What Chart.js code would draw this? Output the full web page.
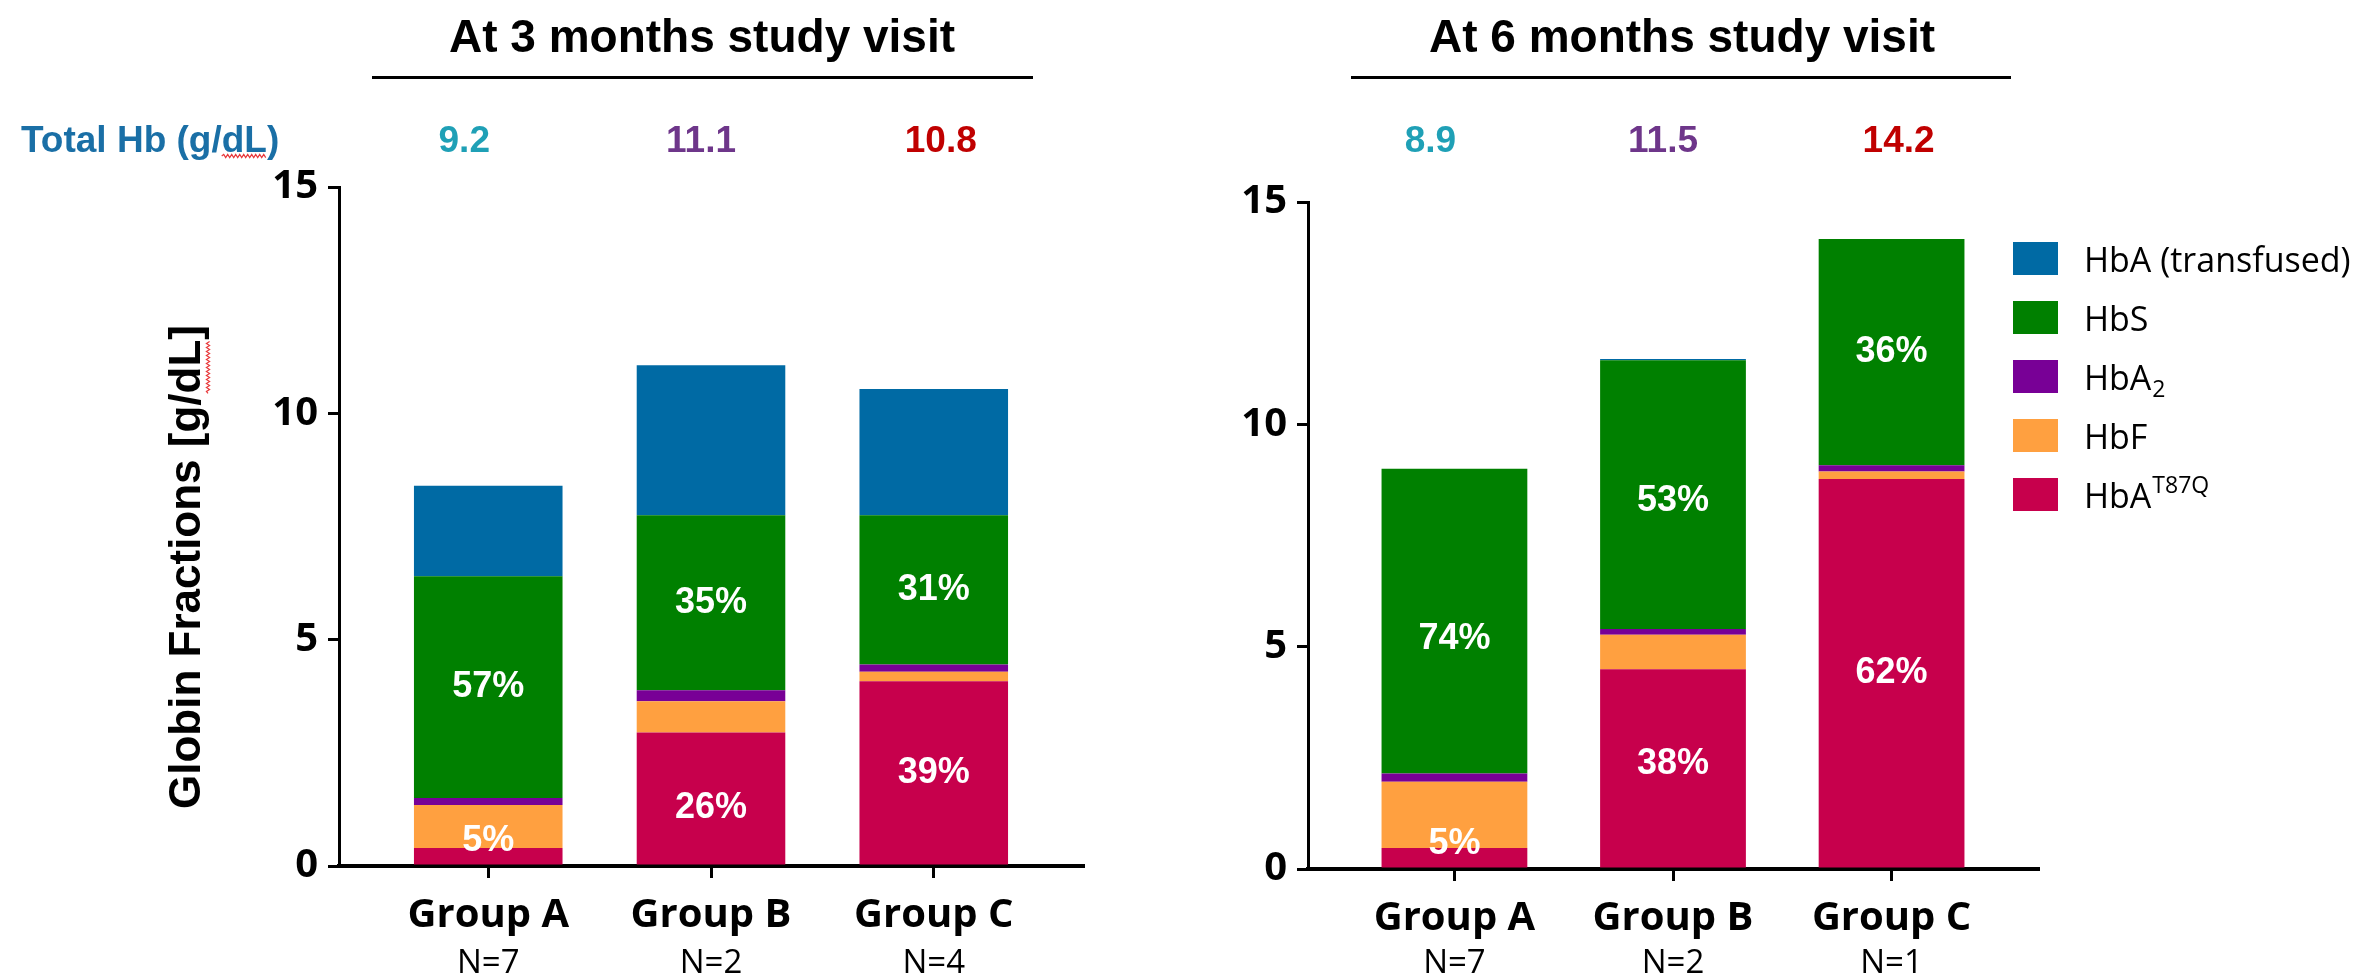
<!DOCTYPE html>
<html>
<head>
<meta charset="utf-8">
<script src="https://cdn.jsdelivr.net/npm/chart.js@4.4.1/dist/chart.umd.min.js"></script>
<style>
  html, body { margin: 0; padding: 0; background: #ffffff; }
  #wrap { position: relative; width: 2356px; height: 977px; overflow: hidden; background: #ffffff; }
  canvas { position: absolute; top: 0; }
  #visit3 { left: 0; }
  #visit6 { left: 1180px; }
</style>
</head>
<body>
<div id="wrap">
  <canvas id="visit3" width="1180" height="977"></canvas>
  <canvas id="visit6" width="1176" height="977"></canvas>
</div>
<script>
// ---- data (g/dL) ----
const groups = ['Group A', 'Group B', 'Group C'];
const nPatients3 = ['N=7', 'N=2', 'N=4'];
const nPatients6 = ['N=7', 'N=2', 'N=1'];
const totalHb3 = ['9.2', '11.1', '10.8'];
const totalHb6 = ['8.9', '11.5', '14.2'];
const yTicks = [0, 5, 10, 15];

// 3 months study visit, stacked bottom to top
const hbT87Q3 = [0.40, 2.95, 4.08];
const hbF3    = [0.95, 0.69, 0.21];
const hbA2_3  = [0.15, 0.24, 0.16];
const hbS3    = [4.90, 3.87, 3.30];
const hbA3    = [2.00, 3.31, 2.79];

// 6 months study visit
const hbT87Q6 = [0.47, 4.49, 8.77];
const hbF6    = [1.49, 0.78, 0.17];
const hbA2_6  = [0.19, 0.13, 0.14];
const hbS6    = [6.85, 6.04, 5.09];
const hbA6    = [0.00, 0.03, 0.00];

// share labels printed inside the bars
const pctT87Q3 = ['5%', '26%', '39%'];
const pctS3    = ['57%', '35%', '31%'];
const pctT87Q6 = ['5%', '38%', '62%'];
const pctS6    = ['74%', '53%', '36%'];

// ---- series styling (stack order, bottom first) ----
const series = [
  { base: 'HbA', sub: '',  sup: 'T87Q', color: '#c7004c' },
  { base: 'HbF', sub: '',  sup: '',     color: '#ffa040' },
  { base: 'HbA', sub: '2', sup: '',     color: '#780096' },
  { base: 'HbS', sub: '',  sup: '',     color: '#008000' },
  { base: 'HbA (transfused)', sub: '', sup: '', color: '#006aa4' }
];
const groupColors = ['#1fa0b6', '#6e368a', '#c00000'];
const totalShift = [-24, -10, 7];

const SANS_BOLD = 'bold 46px "Liberation Sans", Arial, sans-serif';

function buildDatasets(values) {
  return series.map((s, k) => ({
    label: s.base + s.sub + s.sup,
    data: values[k].map((v, i) => ({ x: i, y: v })),
    backgroundColor: s.color,
    borderWidth: 0,
    barPercentage: 0.667,
    categoryPercentage: 1.0
  }));
}

function squiggle(ctx, x0, x1, y) {
  ctx.save();
  ctx.strokeStyle = '#e8393b';
  ctx.lineWidth = 1.2;
  ctx.beginPath();
  let up = true;
  ctx.moveTo(x0, y);
  for (let x = x0 + 2; x <= x1; x += 2) {
    ctx.lineTo(x, up ? y - 1.6 : y + 1.6);
    up = !up;
  }
  ctx.stroke();
  ctx.restore();
}

function decorPlugin(cfg) {
  return {
    id: 'panelDecor',
    afterDraw(chart) {
      const ctx = chart.ctx;
      const xs = chart.scales.x;
      const ys = chart.scales.y;
      ctx.save();

      // panel title with rule underneath
      ctx.fillStyle = '#000';
      ctx.font = SANS_BOLD;
      ctx.textAlign = 'center';
      ctx.textBaseline = 'alphabetic';
      ctx.fillText(cfg.title, cfg.titleX, 52);
      ctx.strokeStyle = '#000';
      ctx.lineWidth = 3;
      ctx.beginPath();
      ctx.moveTo(cfg.ruleX0, 77.5);
      ctx.lineTo(cfg.ruleX1, 77.5);
      ctx.stroke();

      // total haemoglobin row
      ctx.font = 'bold 37px "Liberation Sans", Arial, sans-serif';
      cfg.totals.forEach((t, i) => {
        ctx.fillStyle = groupColors[i];
        ctx.fillText(t, xs.getPixelForValue(i) + totalShift[i], 152);
      });
      if (cfg.hbLabel) {
        ctx.fillStyle = '#1a6fa6';
        ctx.textAlign = 'left';
        ctx.fillText('Total Hb (g/dL)', 21, 152);
        const pre = ctx.measureText('Total Hb (g/').width;
        const dl = ctx.measureText('dL').width;
        squiggle(ctx, 21 + pre, 21 + pre + dl, 156);
      }

      // patient counts under the group names
      ctx.fillStyle = '#000';
      ctx.textAlign = 'center';
      ctx.font = '33px "Open Sans", sans-serif';
      cfg.counts.forEach((n, i) => ctx.fillText(n, xs.getPixelForValue(i), 973));

      // share labels inside the segments
      ctx.fillStyle = '#ffffff';
      ctx.font = 'bold 36px "Liberation Sans", Arial, sans-serif';
      ctx.textBaseline = 'middle';
      const zero = ys.getPixelForValue(0);
      cfg.pct.forEach(({ ds, labels, nudge }) => {
        const meta = chart.getDatasetMeta(ds);
        labels.forEach((lab, i) => {
          const el = meta.data[i];
          let y = (el.y + el.base) / 2;
          y = Math.min(y, zero - 25) + nudge[i];
          ctx.fillText(lab, el.x, y);
        });
      });

      // y-axis title
      if (cfg.yTitle) {
        ctx.save();
        ctx.translate(188, 567);
        ctx.rotate(-Math.PI / 2);
        ctx.fillStyle = '#000';
        ctx.font = 'bold 44px "Liberation Sans", Arial, sans-serif';
        ctx.textAlign = 'center';
        ctx.textBaseline = 'middle';
        const txt = 'Globin Fractions [g/dL]';
        ctx.fillText(txt, 0, 0);
        const w = ctx.measureText(txt).width;
        const pre = ctx.measureText('Globin Fractions [g/').width;
        const dl = ctx.measureText('dL').width;
        squiggle(ctx, -w / 2 + pre, -w / 2 + pre + dl, 20);
        ctx.restore();
      }

      // legend (top entry = top of the stack)
      if (cfg.legend) {
        const lx = cfg.legendX;
        const order = series.slice().reverse();
        order.forEach((s, r) => {
          const cy = 258.5 + r * 59;
          ctx.fillStyle = s.color;
          ctx.fillRect(lx, cy - 16.5, 45, 33);
          ctx.fillStyle = '#000';
          ctx.textAlign = 'left';
          ctx.textBaseline = 'alphabetic';
          ctx.font = '34px "Open Sans", sans-serif';
          const bx = lx + 71;
          const by = cy + 13;
          ctx.fillText(s.base, bx, by);
          let ex = bx + ctx.measureText(s.base).width;
          if (s.sub) {
            ctx.font = '23px "Open Sans", sans-serif';
            ctx.fillText(s.sub, ex + 1, by + 7);
          }
          if (s.sup) {
            ctx.font = '23px "Open Sans", sans-serif';
            ctx.fillText(s.sup, ex + 1, by - 15);
          }
        });
      }
      ctx.restore();
    }
  };
}

function buildChart(canvasId, values, opts) {
  return new Chart(document.getElementById(canvasId), {
    type: 'bar',
    data: { datasets: buildDatasets(values) },
    options: {
      responsive: false,
      devicePixelRatio: 1,
      animation: false,
      events: [],
      layout: { autoPadding: false, padding: opts.padding },
      plugins: { legend: { display: false }, tooltip: { enabled: false } },
      scales: {
        x: {
          type: 'linear',
          stacked: true,
          offset: false,
          min: -0.67,
          max: 2.67,
          afterBuildTicks: (axis) => { axis.ticks = groups.map((_, i) => ({ value: i })); },
          afterFit: (axis) => { axis.height = opts.xHeight; },
          ticks: {
            autoSkip: false,
            maxRotation: 0,
            padding: 14,
            color: '#000',
            font: { family: '"Open Sans", sans-serif', size: 40, weight: 'bold' },
            callback: (v) => groups[v]
          },
          grid: { offset: false, drawOnChartArea: false, drawTicks: true, tickLength: 12, lineWidth: 3, color: '#000' },
          border: { display: true, color: '#000', width: 4 }
        },
        y: {
          stacked: true,
          min: 0,
          max: 15,
          afterBuildTicks: (axis) => { axis.ticks = yTicks.map(v => ({ value: v })); },
          afterFit: (axis) => { axis.width = opts.yWidth; },
          ticks: {
            padding: 10,
            color: '#000',
            font: { family: '"Open Sans", sans-serif', size: 40, weight: 'bold' }
          },
          grid: { drawOnChartArea: false, drawTicks: true, tickLength: 11, lineWidth: 3, color: '#000' },
          border: { display: true, color: '#000', width: 3 }
        }
      }
    },
    plugins: [decorPlugin(opts.decor)]
  });
}

buildChart('visit3', [hbT87Q3, hbF3, hbA2_3, hbS3, hbA3], {
  padding: { top: 187, right: 97, bottom: 0, left: 0 },
  yWidth: 339,
  xHeight: 111,
  decor: {
    title: 'At 3 months study visit', titleX: 702, ruleX0: 372, ruleX1: 1033,
    totals: totalHb3, hbLabel: true, counts: nPatients3,
    pct: [{ ds: 0, labels: pctT87Q3, nudge: [0, 10, 0] }, { ds: 3, labels: pctS3, nudge: [0, 0, 0] }],
    yTitle: true, legend: false
  }
});

buildChart('visit6', [hbT87Q6, hbF6, hbA2_6, hbS6, hbA6], {
  padding: { top: 202, right: 318, bottom: 0, left: 0 },
  yWidth: 128,
  xHeight: 108,
  decor: {
    title: 'At 6 months study visit', titleX: 502, ruleX0: 171, ruleX1: 831,
    totals: totalHb6, hbLabel: false, counts: nPatients6,
    pct: [{ ds: 0, labels: pctT87Q6, nudge: [0, -4, 0] }, { ds: 3, labels: pctS6, nudge: [18, 6, 0] }],
    yTitle: false, legend: true, legendX: 833
  }
});
</script>
</body>
</html>
